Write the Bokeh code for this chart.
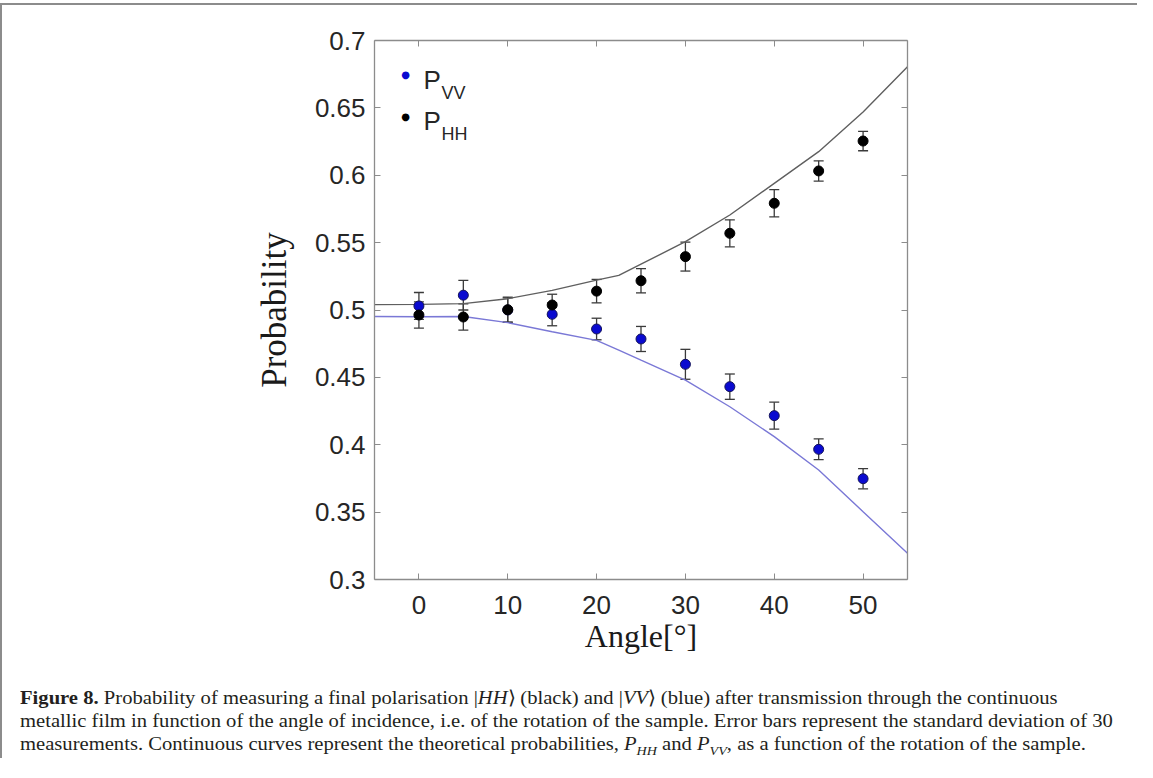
from bokeh.plotting import figure
from bokeh.models import (ColumnDataSource, Whisker, TeeHead, LinearAxis, Range1d,
                          FixedTicker, Label, Div)
from bokeh.layouts import column
from bokeh.embed import file_html
from bokeh.resources import INLINE

# ---------------- data ----------------
angle = [0, 5, 10, 15, 20, 25, 30, 35, 40, 45, 50]
p_hh = [0.4963, 0.4948, 0.5002, 0.5037, 0.5140, 0.5217, 0.5396, 0.5569, 0.5792, 0.6032, 0.6254]
p_hh_err = [0.0097, 0.0097, 0.0093, 0.0080, 0.0087, 0.0090, 0.0107, 0.0100, 0.0101, 0.0075, 0.0072]
p_vv = [0.5030, 0.5110, 0.5000, 0.4968, 0.4859, 0.4785, 0.4597, 0.4431, 0.4216, 0.3966, 0.3748]
p_vv_err = [0.0100, 0.0110, 0.0090, 0.0085, 0.0080, 0.0093, 0.0111, 0.0094, 0.0100, 0.0077, 0.0075]

theory_angle = [-5, 0, 5, 10, 15, 20, 22.5, 25, 30, 35, 40, 45, 50, 55]
hh_theory = [0.5040, 0.5042, 0.5047, 0.5084, 0.5146, 0.5222, 0.5257, 0.5340, 0.5507, 0.5705,
             0.5940, 0.6175, 0.6470, 0.6806]
vv_theory = [0.4952, 0.4950, 0.4952, 0.4906, 0.4839, 0.4775, 0.4703, 0.4628, 0.4480, 0.4282,
             0.4060, 0.3813, 0.3503, 0.3194]

x_ticks = [0, 10, 20, 30, 40, 50]
x_tick_labels = ["0", "10", "20", "30", "40", "50"]
y_ticks = [0.3, 0.35, 0.4, 0.45, 0.5, 0.55, 0.6, 0.65, 0.7]
y_tick_labels = ["0.3", "0.35", "0.4", "0.45", "0.5", "0.55", "0.6", "0.65", "0.7"]

x_label = "Angle[°]"
y_label = "Probability"

# ---------------- layout constants ----------------
X0, X1 = -5, 55
Y0, Y1 = 0.3, 0.7
FRAME_L, FRAME_T, FRAME_W, FRAME_H = 382, 47.5, 533, 539


def px(xp, yp):
    """page pixel -> data coordinates (for legend placement only)"""
    return X0 + (xp - FRAME_L) / FRAME_W * (X1 - X0), Y1 - (yp - FRAME_T) / FRAME_H * (Y1 - Y0)


AX_COL = "#8c8c8c"
TXT_COL = "#262626"

p = figure(width=1135, height=675, output_backend="svg", toolbar_location=None,
           x_range=Range1d(X0, X1), y_range=Range1d(Y0, Y1),
           min_border_left=372, min_border_right=230, min_border_top=35, min_border_bottom=101)
p.grid.visible = False
p.outline_line_color = None
p.background_fill_color = "white"
p.border_fill_color = "white"

for ax in (p.xaxis[0], p.yaxis[0]):
    ax.axis_line_color = AX_COL
    ax.axis_line_width = 1.3
    ax.major_tick_line_color = AX_COL
    ax.major_tick_in = 6
    ax.major_tick_out = 0
    ax.minor_tick_line_color = None
    ax.major_label_text_font = "Liberation Sans"
    ax.major_label_text_font_size = "26px"
    ax.major_label_text_color = TXT_COL
    ax.axis_label_text_font = "Liberation Serif"
    ax.axis_label_text_font_style = "normal"
    ax.axis_label_text_color = "#1a1a1a"

p.xaxis[0].ticker = FixedTicker(ticks=x_ticks)
p.xaxis[0].major_label_overrides = dict(zip(x_ticks, x_tick_labels))
p.xaxis[0].major_label_standoff = 16
p.xaxis[0].axis_label = x_label
p.xaxis[0].axis_label_text_font_size = "32px"
p.xaxis[0].axis_label_standoff = 1

p.yaxis[0].ticker = FixedTicker(ticks=y_ticks)
p.yaxis[0].major_label_overrides = dict(zip(y_ticks, y_tick_labels))
p.yaxis[0].major_label_standoff = 9
p.yaxis[0].axis_label = y_label
p.yaxis[0].axis_label_text_font_size = "35px"
p.yaxis[0].axis_label_standoff = 18

# box axes (top / right) with inward ticks, no labels
top = LinearAxis(ticker=FixedTicker(ticks=x_ticks))
right = LinearAxis(ticker=FixedTicker(ticks=y_ticks))
for ax in (top, right):
    ax.axis_line_color = AX_COL
    ax.axis_line_width = 1.3
    ax.major_tick_line_color = AX_COL
    ax.major_tick_in = 6
    ax.major_tick_out = 0
    ax.minor_tick_line_color = None
    ax.major_label_text_font_size = "0px"
    ax.major_label_text_alpha = 0
    ax.major_label_standoff = 0
p.add_layout(top, "above")
p.add_layout(right, "right")

# theory curves
p.line(theory_angle, hh_theory, line_color="#5f5f5f", line_width=1.4)
p.line(theory_angle, vv_theory, line_color="#7a78d6", line_width=1.4)

# error bars
src_vv = ColumnDataSource(dict(x=angle, y=p_vv,
                               lo=[v - e for v, e in zip(p_vv, p_vv_err)],
                               hi=[v + e for v, e in zip(p_vv, p_vv_err)]))
src_hh = ColumnDataSource(dict(x=angle, y=p_hh,
                               lo=[v - e for v, e in zip(p_hh, p_hh_err)],
                               hi=[v + e for v, e in zip(p_hh, p_hh_err)]))
for src in (src_vv, src_hh):
    w = Whisker(source=src, base="x", lower="lo", upper="hi", dimension="height",
                line_color="#3a3a3a", line_width=1.3, level="underlay",
                upper_head=TeeHead(size=10, line_color="#3a3a3a", line_width=1.3),
                lower_head=TeeHead(size=10, line_color="#3a3a3a", line_width=1.3))
    p.add_layout(w)

# data points
p.scatter("x", "y", source=src_vv, size=10, fill_color="#0a0ad0", line_color="#14145a", line_width=1)
p.scatter("x", "y", source=src_hh, size=10, fill_color="#000000", line_color="#000000", line_width=1)

# legend (built from labels)
for (dx, dy), col in (((413, 81), "#0a0ad0"), ((413, 123), "#000000")):
    lx, ly = px(dx, dy)
    p.add_layout(Label(x=lx, y=ly, text="●", text_color=col, text_font="DejaVu Sans",
                       text_font_size="10px", text_align="center", text_baseline="middle"))
for (tx, ty, sx, sy, sub) in ((431, 87, 449, 100, "VV"), (431, 128, 449, 141, "HH")):
    lx, ly = px(tx, ty)
    p.add_layout(Label(x=lx, y=ly, text="P", text_color=TXT_COL, text_font="Liberation Sans",
                       text_font_size="26px", text_align="left", text_baseline="alphabetic"))
    lx, ly = px(sx, sy)
    p.add_layout(Label(x=lx, y=ly, text=sub, text_color=TXT_COL, text_font="Liberation Sans",
                       text_font_size="18px", text_align="left", text_baseline="alphabetic"))

caption_html = (
    "<div style=\"font-family:'Liberation Serif';font-size:19px;line-height:23px;"
    "color:#231f20;white-space:nowrap;transform:scaleX(1.085);transform-origin:left top;\">"
    "<b>Figure 8.</b> Probability of measuring a final polarisation |<i>HH</i>\u27e9 (black) and "
    "|<i>VV</i>\u27e9 (blue) after transmission through the continuous<br>"
    "metallic film in function of the angle of incidence, i.e. of the rotation of the sample. "
    "Error bars represent the standard deviation of 30<br>"
    "measurements. Continuous curves represent the theoretical probabilities, "
    "<i>P<sub style=\"font-size:13px\">HH</sub></i> and <i>P<sub style=\"font-size:13px\">VV</sub></i>, "
    "as a function of the rotation of the sample."
    "</div>"
)
div = Div(text=caption_html, width=1115, height=72, margin=(6, 0, 0, 18))

layout = column(p, div, spacing=0, margin=(3, 0, 0, 0),
                styles={"border-top": "2px solid #8c8c8c", "border-left": "2px solid #8c8c8c"})

open("out.html", "w").write(file_html(layout, INLINE))
